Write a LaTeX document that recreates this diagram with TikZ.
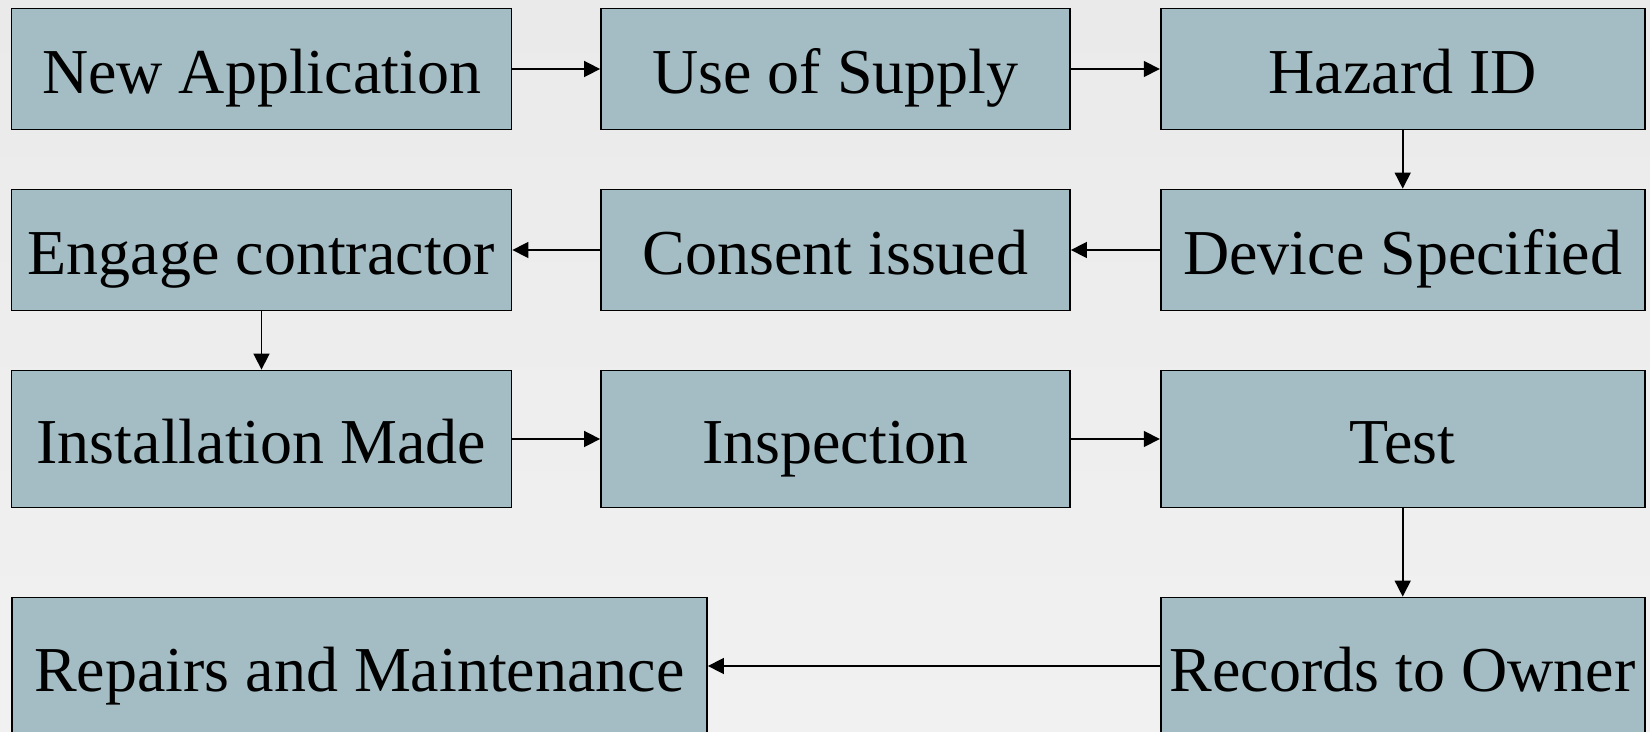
\documentclass[tikz,border=0pt]{standalone}
\usepackage{fontspec}
\setmainfont{Liberation Serif}
\usetikzlibrary{arrows.meta}

\definecolor{boxfill}{RGB}{164,189,196}
\definecolor{bgtop}{RGB}{234,234,234}
\definecolor{bgbottom}{RGB}{241,241,241}

\begin{document}
\begin{tikzpicture}[x=0.5pt, y=-0.5pt,
    stepbox/.style={rectangle, draw, line width=0.9pt, fill=boxfill, inner sep=0pt,
      text height=28pt, text depth=3pt, font=\fontsize{32}{38}\selectfont},
    flow/.style={-{Triangle[length=8pt, width=8pt]}, line width=0.8pt}]
      \useasboundingbox (0,0) rectangle (1650,732);
      \shade[top color=bgtop, bottom color=bgbottom] (0,0) rectangle (1650,732);

      \node[stepbox, minimum width=250pt, minimum height=60.5pt] (newapp) at (261.5,69) {New Application};
      \node[stepbox, minimum width=234.5pt, minimum height=60.5pt] (supply) at (835.5,69) {Use of Supply};
      \node[stepbox, minimum width=242pt, minimum height=60.5pt] (hazard) at (1402.7,69) {Hazard ID};
      \node[stepbox, minimum width=250pt, minimum height=60.5pt] (engage) at (261.5,250) {Engage contractor};
      \node[stepbox, minimum width=234.5pt, minimum height=60.5pt] (consent) at (835.5,250) {Consent issued};
      \node[stepbox, minimum width=242pt, minimum height=60.5pt] (device) at (1402.7,250) {Device Specified};
      \node[stepbox, minimum width=250pt, minimum height=68.5pt] (install) at (261.5,439) {Installation Made};
      \node[stepbox, minimum width=234.5pt, minimum height=68.5pt] (inspect) at (835.5,439) {Inspection};
      \node[stepbox, minimum width=242pt, minimum height=68.5pt] (test) at (1402.7,439) {Test};
      \node[stepbox, minimum width=347.7pt, minimum height=68.5pt] (repairs) at (359.3,666) {Repairs and Maintenance};
      \node[stepbox, minimum width=242pt, minimum height=68.5pt] (records) at (1402.7,666) {Records to Owner};

      \draw[flow] (newapp) -- (supply);
      \draw[flow] (supply) -- (hazard);
      \draw[flow] (hazard) -- (device);
      \draw[flow] (device) -- (consent);
      \draw[flow] (consent) -- (engage);
      \draw[flow] (engage) -- (install);
      \draw[flow] (install) -- (inspect);
      \draw[flow] (inspect) -- (test);
      \draw[flow] (test) -- (records);
      \draw[flow] (records) -- (repairs);
    \end{tikzpicture}
\end{document}
